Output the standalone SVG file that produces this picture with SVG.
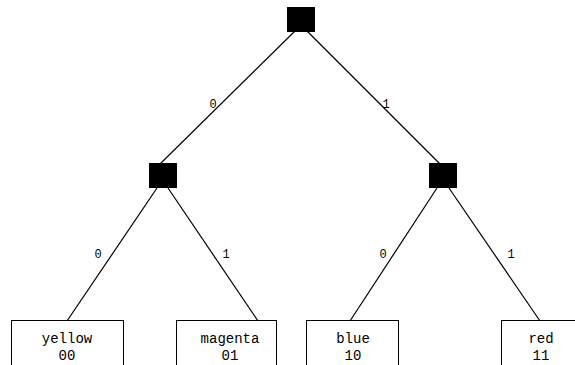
<svg xmlns="http://www.w3.org/2000/svg" width="575" height="365" viewBox="0 0 575 365">
  <style>
    .inner { fill: #000; stroke: #000; stroke-width: 1; }
    .leaf { fill: #fff; stroke: #000; stroke-width: 1; }
    .edge { stroke: #000; stroke-width: 1.2; fill: none; }
    .lbl { font-family: "Liberation Mono", "DejaVu Sans Mono", monospace; font-size: 12px; fill: #000; text-anchor: middle; }
    .txt { font-family: "Liberation Mono", "DejaVu Sans Mono", monospace; font-size: 14px; fill: #000; text-anchor: middle; }
  </style>
  <rect width="575" height="365" fill="#fff"/>
  <g id="connectors">
    <line class="edge" x1="295" y1="31" x2="160" y2="164"/>
    <line class="edge" x1="307" y1="31" x2="440" y2="164"/>
    <line class="edge" x1="157" y1="188" x2="67" y2="321"/>
    <line class="edge" x1="168" y1="188" x2="258" y2="321"/>
    <line class="edge" x1="437" y1="188" x2="350" y2="321"/>
    <line class="edge" x1="449" y1="188" x2="540" y2="321"/>
    <text class="lbl" x="213" y="108">0</text>
    <text class="lbl" x="386" y="108">1</text>
    <text class="lbl" x="98" y="258">0</text>
    <text class="lbl" x="226" y="258">1</text>
    <text class="lbl" x="383" y="258">0</text>
    <text class="lbl" x="511" y="258">1</text>
  </g>
  <g id="root"><rect class="inner" x="287.5" y="7.5" width="27" height="24"/></g>
  <g id="n0"><rect class="inner" x="149.5" y="163.5" width="27" height="24"/></g>
  <g id="n1"><rect class="inner" x="429.5" y="163.5" width="27" height="24"/></g>
  <g id="yellow">
    <rect class="leaf" x="11.5" y="320.5" width="112" height="60"/>
    <text class="txt" x="67" y="343">yellow</text>
    <text class="txt" x="67" y="360">00</text>
  </g>
  <g id="magenta">
    <rect class="leaf" x="176.5" y="320.5" width="100" height="60"/>
    <text class="txt" x="230" y="343">magenta</text>
    <text class="txt" x="230" y="360">01</text>
  </g>
  <g id="blue">
    <rect class="leaf" x="306.5" y="320.5" width="92" height="60"/>
    <text class="txt" x="353" y="343">blue</text>
    <text class="txt" x="353" y="360">10</text>
  </g>
  <g id="red">
    <rect class="leaf" x="501.5" y="320.5" width="80" height="60"/>
    <text class="txt" x="541" y="343">red</text>
    <text class="txt" x="541" y="360">11</text>
  </g>
</svg>
